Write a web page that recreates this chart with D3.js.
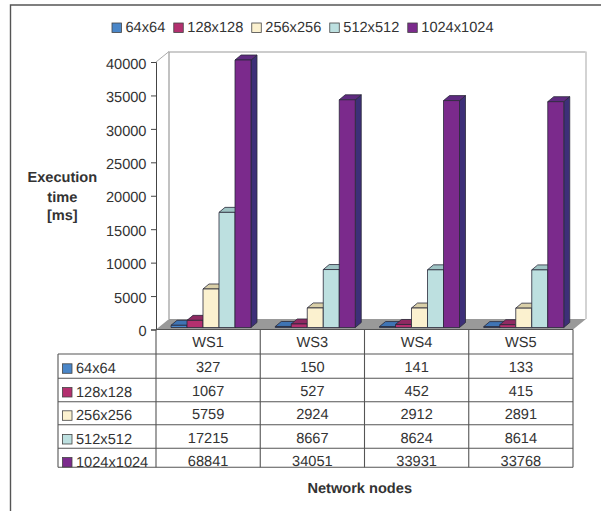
<!DOCTYPE html>
<html><head><meta charset="utf-8">
<script src="https://cdn.jsdelivr.net/npm/d3@7"></script>
<style>html,body{margin:0;padding:0;background:#fff}svg{display:block}text{font-family:"Liberation Sans",Arial,sans-serif;fill:#333;text-rendering:geometricPrecision}</style>
</head><body><div id="c"></div>
<script>
const categories = ["WS1","WS3","WS4","WS5"];
const seriesNames = ["64x64","128x128","256x256","512x512","1024x1024"];
const v64 = [327,150,141,133];
const v128 = [1067,527,452,415];
const v256 = [5759,2924,2912,2891];
const v512 = [17215,8667,8624,8614];
const v1024 = [68841,34051,33931,33768];
const seriesValues = [v64,v128,v256,v512,v1024];
const yTicks = [0,5000,10000,15000,20000,25000,30000,35000,40000];
const fronts = ["#4a86c8","#b3306f","#fbf1cf","#bde0e0","#7b2a8c"];
const tops = ["#3f74b4","#8f2a62","#d9cfa8","#9fc4c4","#5f2a80"];
const sides = ["#2f5a92","#7d2457","#c4b98f","#8aaeae","#3d2f78"];

const W=601,H=511;
const svg=d3.select("#c").append("svg").attr("width",W).attr("height",H);
const fs=14.6;
svg.append("path").attr("d","M10.5,511V5H601").attr("fill","none").attr("stroke","#555").attr("stroke-width",1.4);

const x=d3.scaleBand().domain(categories).range([156,573]);
const y=d3.scaleLinear().domain([0,40000]).range([329.5,62]).clamp(true);
const sx=d3.scaleBand().domain(seriesNames).range([15,95]);
const dx=6,dy=5,wx=13,wy=10.5,shiftY=2;

const x0=156,x1=573,y0=y(0),yT=y(40000);
svg.append("path").attr("d",`M${x0+wx},${y0-wy}V${yT-wy+.5}H${x1+wx-.5}`).attr("fill","none").attr("stroke","#9a9a9a").attr("stroke-width",1.2);
svg.append("line").attr("x1",x1+wx).attr("x2",x1+wx).attr("y1",yT-wy).attr("y2",y0-wy).attr("stroke","#c8c8c8").attr("stroke-width",1.6);
svg.append("line").attr("x1",x0).attr("x2",x0+wx).attr("y1",yT).attr("y2",yT-wy).attr("stroke","#aaa");
svg.append("path").attr("d",`M${x0},${y0}L${x0+wx},${y0-wy}H${x1+wx}L${x1},${y0}Z`).attr("fill","#999");

const line="#2a2a3a";
categories.forEach((c,ci)=>{
  seriesNames.forEach((s,si)=>{
    const bx=x(c)+sx(s), bw=sx.bandwidth(), by=y(seriesValues[si][ci])-shiftY, b0=y0-shiftY;
    const g=svg.append("g").attr("stroke",line).attr("stroke-width",.8).attr("stroke-linejoin","round");
    g.append("path").attr("d",`M${bx+bw},${by}l${dx},${-dy}V${b0-dy}l${-dx},${dy}Z`).attr("fill",sides[si]);
    g.append("path").attr("d",`M${bx},${by}l${dx},${-dy}h${bw}l${-dx},${dy}Z`).attr("fill",tops[si]);
    g.append("rect").attr("x",bx).attr("y",by).attr("width",bw).attr("height",b0-by).attr("fill",fronts[si]);
  });
});

const ax=svg.append("g").attr("transform",`translate(${x0},0)`).call(d3.axisLeft(y).tickValues(yTicks).tickFormat(d3.format("d")).tickSize(5).tickPadding(4.5));
ax.selectAll("path,line").attr("stroke","#444").attr("stroke-width",1);
ax.selectAll("text").attr("font-size",fs).attr("dy",".42em").style("fill","#333");

const rowY=[y0,354,378.3,401.7,424.7,448.3,467.3];
const tl=58;
const tg=svg.append("g").attr("stroke","#555").attr("stroke-width",1.1);
rowY.forEach((ry,i)=>tg.append("line").attr("x1",i===0?x0:tl).attr("x2",x1).attr("y1",ry).attr("y2",ry));
tg.append("line").attr("x1",tl).attr("x2",tl).attr("y1",rowY[1]).attr("y2",rowY[6]);
x.domain().forEach(c=>tg.append("line").attr("x1",x(c)).attr("x2",x(c)).attr("y1",rowY[0]).attr("y2",rowY[6]));
tg.append("line").attr("x1",x1).attr("x2",x1).attr("y1",rowY[0]).attr("y2",rowY[6]);
categories.forEach(c=>svg.append("text").attr("x",x(c)+x.bandwidth()/2).attr("y",347.3).attr("text-anchor","middle").attr("font-size",fs).text(c));
const rowBase=[373.3,397,420.3,444,467];
seriesNames.forEach((s,si)=>{
  const base=rowBase[si];
  svg.append("rect").attr("x",62.5).attr("y",base-9.5).attr("width",9.5).attr("height",9.5).attr("fill",fronts[si]).attr("stroke","#444").attr("stroke-width",.8);
  svg.append("text").attr("x",76).attr("y",base).attr("font-size",fs).text(s);
  categories.forEach((c,ci)=>svg.append("text").attr("x",x(c)+x.bandwidth()/2).attr("y",base-1).attr("text-anchor","middle").attr("font-size",fs).text(seriesValues[si][ci]));
});

let lx=112;
seriesNames.forEach((s,si)=>{
  svg.append("rect").attr("x",lx).attr("y",23).attr("width",9.5).attr("height",9.5).attr("fill",fronts[si]).attr("stroke","#444").attr("stroke-width",.8);
  const t=svg.append("text").attr("x",lx+13.5).attr("y",32.3).attr("font-size",fs).text(s);
  lx+=13.5+t.node().getComputedTextLength()+8.5;
});

[["Execution",182],["time",201.5],["[ms]",220]].forEach(([t,yy])=>svg.append("text").attr("x",62.3).attr("y",yy).attr("text-anchor","middle").attr("font-size",14.6).attr("font-weight","bold").text(t));
svg.append("text").attr("x",359.7).attr("y",492.7).attr("text-anchor","middle").attr("font-size",14.6).attr("font-weight","bold").text("Network nodes");
</script></body></html>
